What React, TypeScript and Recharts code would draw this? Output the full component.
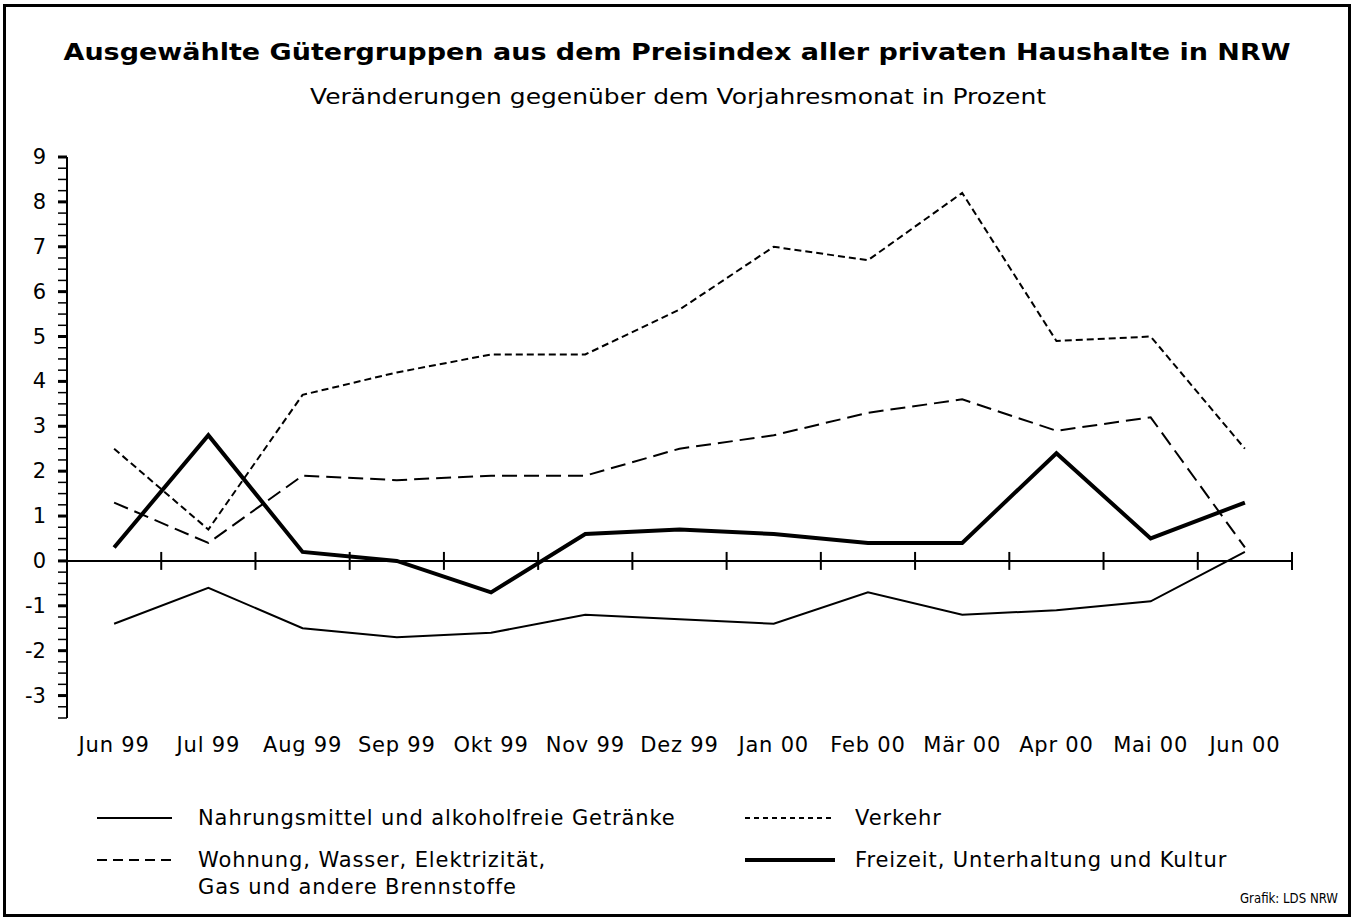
import React from 'react';
import { LineChart, Line, XAxis, YAxis, ReferenceLine } from 'recharts';

const months = ['Jun 99', 'Jul 99', 'Aug 99', 'Sep 99', 'Okt 99', 'Nov 99', 'Dez 99', 'Jan 00', 'Feb 00', 'Mär 00', 'Apr 00', 'Mai 00', 'Jun 00'];
const nahrung = [-1.4, -0.6, -1.5, -1.7, -1.6, -1.2, -1.3, -1.4, -0.7, -1.2, -1.1, -0.9, 0.2];
const verkehr = [2.5, 0.7, 3.7, 4.2, 4.6, 4.6, 5.6, 7.0, 6.7, 8.2, 4.9, 5.0, 2.5];
const wohnung = [1.3, 0.4, 1.9, 1.8, 1.9, 1.9, 2.5, 2.8, 3.3, 3.6, 2.9, 3.2, 0.3];
const freizeit = [0.3, 2.8, 0.2, 0.0, -0.7, 0.6, 0.7, 0.6, 0.4, 0.4, 2.4, 0.5, 1.3];

const yLabels = [-3, -2, -1, 0, 1, 2, 3, 4, 5, 6, 7, 8, 9];
const yMin = -3.5;
const yMax = 9;
const yMinorStep = 0.25;

const title = 'Ausgewählte Gütergruppen aus dem Preisindex aller privaten Haushalte in NRW';
const subtitle = 'Veränderungen gegenüber dem Vorjahresmonat in Prozent';
const source = 'Grafik: LDS NRW';

const FONT = '"DejaVu Sans", sans-serif';

const data = months.map((m, i) => ({
  x: i + 0.5,
  month: m,
  nahrung: nahrung[i],
  verkehr: verkehr[i],
  wohnung: wohnung[i],
  freizeit: freizeit[i],
}));

const yTicks: number[] = [];
for (let v = yMin; v <= yMax + 1e-9; v += yMinorStep) yTicks.push(Math.round(v * 100) / 100);

const xLabelTicks = months.map((_, i) => i + 0.5);
const xBoundaries = months.map((_, i) => i + 1);

const TICK_SIZE = 9;
const TICK_MARGIN = 12;

const YTick = (props: any) => {
  const { x, y, payload } = props;
  const v = payload.value;
  const isMajor = yLabels.includes(v);
  const axisX = x + TICK_SIZE + TICK_MARGIN;
  return (
    <g>
      <line x1={axisX - TICK_SIZE} x2={axisX} y1={y} y2={y} stroke="#000" strokeWidth={isMajor ? 3 : 1.5} />
      {isMajor && (
        <text x={x} y={y} textAnchor="end" dominantBaseline="central" fontFamily={FONT} fontSize={21} fill="#000">
          {String(v)}
        </text>
      )}
    </g>
  );
};

const XTick = (props: any) => {
  const { x, y, payload } = props;
  const idx = Math.round(payload.value - 0.5);
  return (
    <text x={x} y={y} textAnchor="middle" dominantBaseline="central" fontFamily={FONT} fontSize={21} letterSpacing={0.8} fill="#000">
      {months[idx]}
    </text>
  );
};

const legendItems = [
  { label: ['Nahrungsmittel und alkoholfreie Getränke'], dash: undefined, width: 2, x: 97, len: 75, tx: 198, y: 818 },
  { label: ['Verkehr'], dash: '5 4', width: 2, x: 745, len: 90, tx: 855, y: 818 },
  { label: ['Wohnung, Wasser, Elektrizität,', 'Gas und andere Brennstoffe'], dash: '10 6', width: 2, x: 97, len: 75, tx: 198, y: 860 },
  { label: ['Freizeit, Unterhaltung und Kultur'], dash: undefined, width: 4, x: 745, len: 90, tx: 855, y: 860 },
];

export default function App() {
  return (
    <div style={{ position: 'fixed', left: 0, top: 0, width: 1356, height: 919, background: '#fff', overflow: 'hidden' }}>
      <div
        style={{
          position: 'absolute',
          left: 3,
          top: 4,
          width: 1348,
          height: 913,
          border: '3px solid #000',
          boxSizing: 'border-box',
        }}
      />
      <div style={{ position: 'absolute', left: 0, top: 0 }}>
        <LineChart width={1356} height={919} data={data} margin={{ top: 157, right: 64, bottom: 161, left: 7 }}>
          <XAxis
            dataKey="x"
            type="number"
            domain={[0, 13]}
            ticks={xLabelTicks}
            axisLine={false}
            tickLine={false}
            tickSize={0}
            tickMargin={27}
            height={40}
            interval={0}
            tick={<XTick />}
          />
          <YAxis
            type="number"
            domain={[yMin, yMax]}
            ticks={yTicks}
            interval={0}
            width={60}
            axisLine={{ stroke: '#000', strokeWidth: 2 }}
            tickLine={false}
            tickSize={TICK_SIZE}
            tickMargin={TICK_MARGIN}
            tick={<YTick />}
            allowDataOverflow
          />
          <ReferenceLine y={0} stroke="#000" strokeWidth={2} />
          {xBoundaries.map((k) => (
            <ReferenceLine
              key={k}
              segment={[
                { x: k, y: -0.2 },
                { x: k, y: 0.2 },
              ]}
              stroke="#000"
              strokeWidth={2}
            />
          ))}
          <Line type="linear" dataKey="nahrung" stroke="#000" strokeWidth={2} dot={false} isAnimationActive={false} />
          <Line type="linear" dataKey="verkehr" stroke="#000" strokeWidth={2} strokeDasharray="7 4" dot={false} isAnimationActive={false} />
          <Line type="linear" dataKey="wohnung" stroke="#000" strokeWidth={2} strokeDasharray="15 7" dot={false} isAnimationActive={false} />
          <Line type="linear" dataKey="freizeit" stroke="#000" strokeWidth={4} dot={false} isAnimationActive={false} />
        </LineChart>
      </div>
      <svg width={1356} height={919} style={{ position: 'absolute', left: 0, top: 0, pointerEvents: 'none' }}>
        <text
          x={677}
          y={52}
          textAnchor="middle"
          dominantBaseline="central"
          fontFamily={FONT}
          fontWeight="bold"
          fontSize={23}
          textLength={1227}
          lengthAdjust="spacingAndGlyphs"
          fill="#000"
        >
          {title}
        </text>
        <text
          x={678}
          y={96}
          textAnchor="middle"
          dominantBaseline="central"
          fontFamily={FONT}
          fontSize={21.5}
          textLength={736}
          lengthAdjust="spacingAndGlyphs"
          fill="#000"
        >
          {subtitle}
        </text>
        {legendItems.map((it, i) => (
          <g key={i}>
            <line x1={it.x} x2={it.x + it.len} y1={it.y} y2={it.y} stroke="#000" strokeWidth={it.width} strokeDasharray={it.dash} />
            {it.label.map((l, j) => (
              <text key={j} x={it.tx} y={it.y + j * 27} dominantBaseline="central" fontFamily={FONT} fontSize={21} letterSpacing={0.9} fill="#000">
                {l}
              </text>
            ))}
          </g>
        ))}
        <text
          x={1240}
          y={898}
          dominantBaseline="central"
          fontFamily={FONT}
          fontSize={14}
          textLength={98}
          lengthAdjust="spacingAndGlyphs"
          fill="#000"
        >
          {source}
        </text>
      </svg>
    </div>
  );
}
